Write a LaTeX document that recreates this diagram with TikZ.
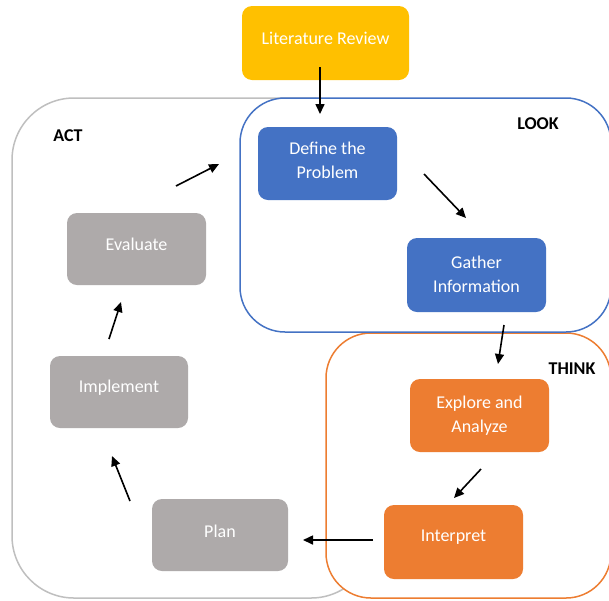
\documentclass[tikz,border=0pt]{standalone}
\usepackage{fontspec}
\setmainfont{Carlito}
\usetikzlibrary{arrows.meta}
\definecolor{cyellow}{HTML}{FFC000}
\definecolor{cblue}{HTML}{4472C4}
\definecolor{corange}{HTML}{ED7D31}
\definecolor{cgray}{HTML}{AEAAAA}
\definecolor{cline}{HTML}{BFBFBF}
\tikzset{
  box/.style={rounded corners=10pt, minimum width=139pt, minimum height=73pt, inner sep=0pt},
  txt/.style={text=white, align=center, font=\fontsize{18}{24}\selectfont, inner sep=0pt},
  ybox/.style={box, fill=cyellow},
  bbox/.style={box, fill=cblue},
  obox/.style={box, fill=corange},
  gbox/.style={box, fill=cgray},
  region/.style={line width=1.5pt, fill=white},
  lab/.style={font=\fontsize{18}{22}\selectfont\bfseries, text=black},
  arr/.style={line width=1.6pt, -{Triangle[length=10pt,width=9pt]}}
}
\begin{document}
\begin{tikzpicture}[x=1pt,y=-1pt]
\useasboundingbox (0,0) rectangle (609,600);
% regions
\draw[region, draw=cline, rounded corners=62pt] (12,98) rectangle (373,598);
\draw[region, draw=corange, rounded corners=45pt] (326,333) rectangle (611,598);
\draw[region, draw=cblue, rounded corners=45pt] (240,98) rectangle (611,332);
% labels
\node[lab] (act) at (68,136) {ACT};
\node[lab] (look) at (538,124) {LOOK};
\node[lab] (think) at (572,369) {THINK};
% nodes
\node[ybox, minimum width=167pt, minimum height=74pt,
  label={[txt,yshift=5pt]center:Literature Review}] (lit) at (325.5,43) {};
\node[bbox, label={[txt,yshift=3.5pt]center:Define the\\Problem}] (define) at (327.5,163.5) {};
\node[bbox, minimum height=74pt, label={[txt,yshift=1pt]center:Gather\\Information}] (gather) at (476.5,275) {};
\node[obox, label={[txt]center:Explore and\\Analyze}] (explore) at (479.5,415.5) {};
\node[obox, minimum height=74pt, label={[txt,yshift=4.5pt]center:Interpret}] (interpret) at (453.5,542) {};
\node[gbox, minimum width=136pt, minimum height=72pt, label={[txt,yshift=4pt]center:Plan}] (plan) at (220,535) {};
\node[gbox, minimum width=138pt, minimum height=72pt, label={[txt,yshift=4pt]center:Implement}] (implement) at (119,392) {};
\node[gbox, minimum height=72pt, label={[txt,yshift=5pt]center:Evaluate}] (evaluate) at (136.5,249) {};
% arrow end points
\coordinate (a1s) at (320,67);  \coordinate (a1e) at (320,114);
\coordinate (a2s) at (424,174); \coordinate (a2e) at (466,218);
\coordinate (a3s) at (504,325); \coordinate (a3e) at (498,364);
\coordinate (a4s) at (481,469); \coordinate (a4e) at (454,498);
\coordinate (a5s) at (373,540); \coordinate (a5e) at (303,540);
\coordinate (a6s) at (130,501); \coordinate (a6e) at (112,456);
\coordinate (a7s) at (109,339); \coordinate (a7e) at (121,302);
\coordinate (a8s) at (176,186); \coordinate (a8e) at (219,164);
\draw[arr] (a1s) -- (a1e);
\draw[arr] (a2s) -- (a2e);
\draw[arr] (a3s) -- (a3e);
\draw[arr] (a4s) -- (a4e);
\draw[arr] (a5s) -- (a5e);
\draw[arr] (a6s) -- (a6e);
\draw[arr] (a7s) -- (a7e);
\draw[arr] (a8s) -- (a8e);
\end{tikzpicture}
\end{document}
